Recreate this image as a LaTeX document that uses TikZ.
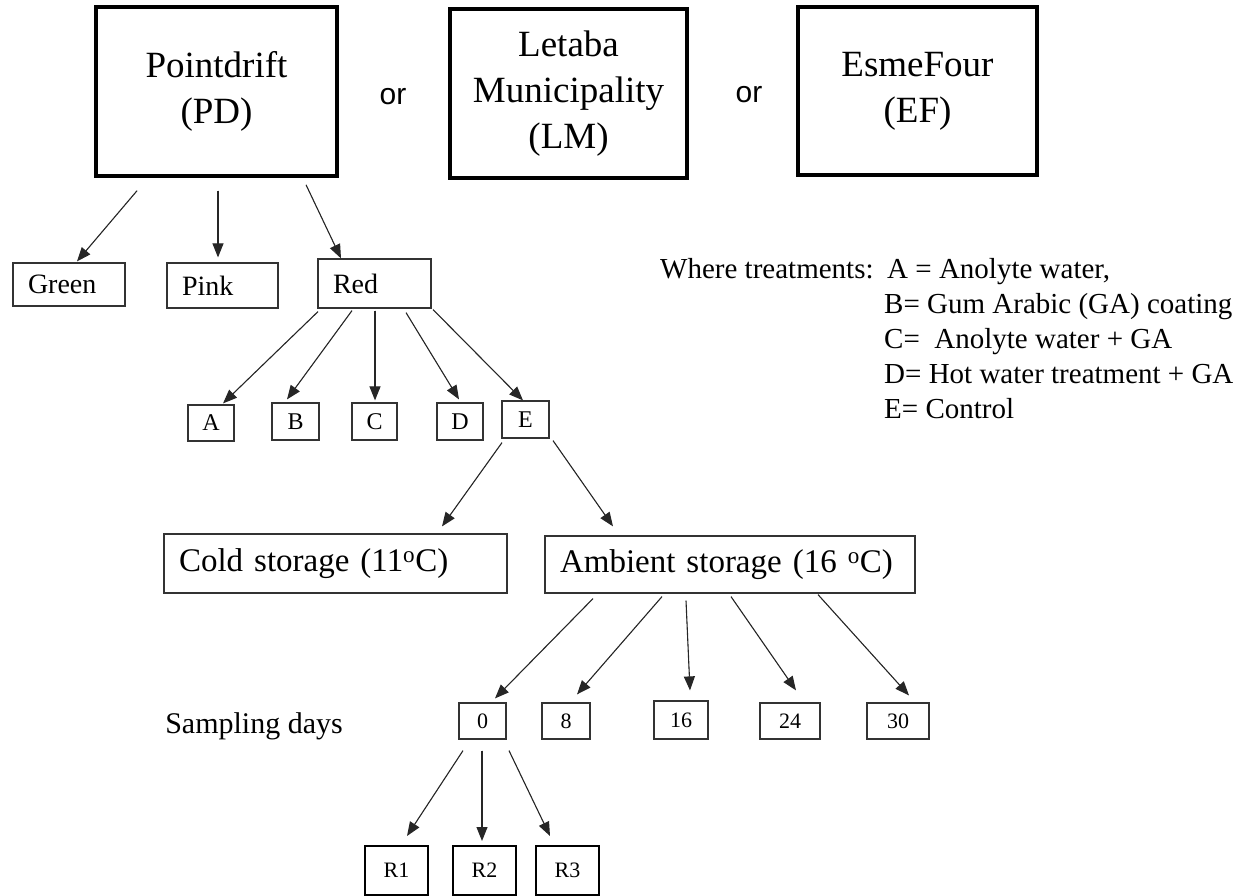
\documentclass[tikz,border=0pt]{standalone}
\usepackage{fontspec}
\setmainfont{Liberation Serif}
\newfontfamily\orfont{Liberation Sans}
\usetikzlibrary{arrows.meta,calc}
\begin{document}
\begin{tikzpicture}[x=1pt,y=-1pt,
  arr/.style={-{Triangle[length=14pt,width=11pt]}, line width=1.1pt, draw=black!85, fill=black},
  topbox/.style={draw=black, line width=3.5pt, align=center, inner sep=0pt, font=\fontsize{37}{46}\selectfont},
  cbox/.style={draw=black!80, line width=1.2pt, inner ysep=0pt},
  lbox/.style={cbox, inner xsep=15pt, align=left, font=\fontsize{28}{34}\selectfont},
  sbox/.style={cbox, inner xsep=0pt, font=\fontsize{24}{28}\selectfont},
  nbox/.style={cbox, inner xsep=0pt, font=\fontsize{22}{26}\selectfont},
  rbox/.style={draw=black, line width=2pt, inner sep=0pt, font=\fontsize{22}{26}\selectfont},
  orstyle/.style={font=\orfont\fontsize{30}{34}\selectfont},
  legtext/.style={anchor=base west, inner sep=0pt, font=\fontsize{29}{35}\selectfont}
]
\useasboundingbox (0,0) rectangle (1242,896);

% top boxes
\node[topbox, minimum width=241pt, minimum height=169pt] (PD) at (216.5,91.5) {Pointdrift\\(PD)};
\node[topbox, minimum width=237pt, minimum height=169pt] (LM) at (568.5,93.5) {Letaba\\Municipality\\(LM)};
\node[topbox, minimum width=239pt, minimum height=168pt] (EF) at (917.5,91) {EsmeFour\\(EF)};
\node[orstyle] (or1) at (393,97) {or};
\node[orstyle] (or2) at (749,95) {or};

% colour level
\node[lbox, text width=82pt, minimum height=43pt] (green) at (69,284.5) {Green};
\node[lbox, text width=81pt, minimum height=45pt] (pink) at (222.5,285.5) {Pink};
\node[lbox, text width=83pt, minimum height=49pt] (red) at (374.5,283.5) {Red};

% treatments
\node[sbox, minimum width=46pt, minimum height=36pt] (A) at (211,423) {A};
\node[sbox, minimum width=47pt, minimum height=37pt] (B) at (295.5,421.5) {B};
\node[sbox, minimum width=45pt, minimum height=37pt] (C) at (374.5,421.5) {C};
\node[sbox, minimum width=46pt, minimum height=37pt] (D) at (460,421.5) {D};
\node[sbox, minimum width=47pt, minimum height=37pt] (E) at (525.5,419.5) {E};

% storage
\node[lbox, font=\fontsize{33}{40}\selectfont, text width=313pt, minimum height=59pt] (cold) at (335.5,563.5) {Cold storage (11\textsuperscript{o}C)};
\node[lbox, font=\fontsize{33}{40}\selectfont, text width=340pt, minimum height=57pt] (amb) at (730,564.5) {Ambient storage (16 \textsuperscript{o}C)};

% sampling days
\node[anchor=base east, inner sep=0pt, font=\fontsize{30}{35}\selectfont] (samp) at (343,733) {Sampling days};
\node[nbox, minimum width=47pt, minimum height=36pt] (d0) at (482.5,721) {0};
\node[nbox, minimum width=48pt, minimum height=36pt] (d8) at (566,721) {8};
\node[nbox, minimum width=54pt, minimum height=38pt] (d16) at (681,720) {16};
\node[nbox, minimum width=60pt, minimum height=36pt] (d24) at (790,721) {24};
\node[nbox, minimum width=62pt, minimum height=36pt] (d30) at (898,721) {30};

% replicates
\node[rbox, minimum width=63pt, minimum height=49pt] (R1) at (396.5,870.5) {R1};
\node[rbox, minimum width=63pt, minimum height=49pt] (R2) at (484.5,870.5) {R2};
\node[rbox, minimum width=63pt, minimum height=49pt] (R3) at (567.5,870.5) {R3};

% legend
\node[legtext] (where) at (660,278) {Where treatments:};
\node[legtext] (la) at (887,278) {A = Anolyte water,};
\node[legtext] (lb) at (884,313) {B= Gum Arabic (GA) coating};
\node[legtext] (lc) at (884,348) {C=~ Anolyte water + GA};
\node[legtext] (ld) at (884,383) {D= Hot water treatment + GA};
\node[legtext] (le) at (884,418) {E= Control};

% arrows
\draw[arr] ($(PD.south)+(-79.5,13)$) -- ($(green.north)+(8,-1)$);
\draw[arr] ($(PD.south)+(1.5,13)$) -- ($(pink.north)+(-4.5,-5)$);
\draw[arr] ($(PD.south)+(89.5,7)$) -- ($(red.north)+(-33.5,0)$);

\draw[arr] ($(red.south)+(-56.5,3)$) -- ($(A.north)+(12,-1)$);
\draw[arr] ($(red.south)+(-22.5,2)$) -- ($(B.north)+(-8.5,-3)$);
\draw[arr] ($(red.south)+(0.5,2)$) -- ($(C.north)+(0.5,-2)$);
\draw[arr] ($(red.south)+(31.5,4)$) -- ($(D.north)+(-1,-3)$);
\draw[arr] ($(red.south)+(58.5,1)$) -- ($(E.north)+(-2.5,0)$);

\draw[arr] ($(E.south)+(-23.5,4)$) -- ($(cold.north)+(106.5,-7)$);
\draw[arr] ($(E.south)+(27.5,2)$) -- ($(amb.north)+(-117,-9)$);

\draw[arr] ($(amb.south)+(-137,5)$) -- ($(d0.north)+(12.5,-4)$);
\draw[arr] ($(amb.south)+(-68,3)$) -- ($(d8.north)+(11,-8)$);
\draw[arr] ($(amb.south)+(-44,7)$) -- ($(d16.north)+(9,-10)$);
\draw[arr] ($(amb.south)+(1,3)$) -- ($(d24.north)+(6,-12)$);
\draw[arr] ($(amb.south)+(88,1)$) -- ($(d30.north)+(11,-7)$);

\draw[arr] ($(d0.south)+(-19.5,11)$) -- ($(R1.north)+(10.5,-9)$);
\draw[arr] ($(d0.south)+(-0.5,11)$) -- ($(R2.north)+(-2.5,-4)$);
\draw[arr] ($(d0.south)+(26.5,11)$) -- ($(R3.north)+(-17.5,-9)$);
\end{tikzpicture}
\end{document}
